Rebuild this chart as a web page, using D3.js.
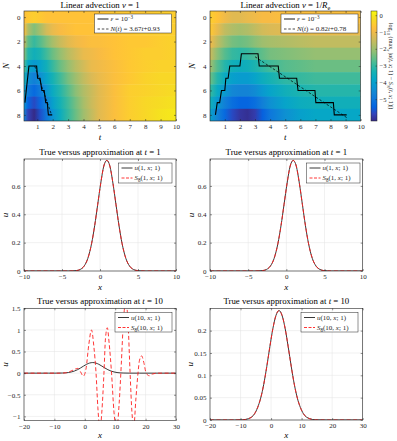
<!DOCTYPE html>
<html lang="en">
<head>
<meta charset="UTF-8">
<title>Linear advection</title>
<style>
  body { margin: 0; background: #fff; }
  svg { display: block; font-family: "Liberation Serif", "DejaVu Serif", serif; white-space: pre; }
</style>
</head>
<body>
<svg id="fig" width="397" height="441"></svg>
<script src="https://d3js.org/d3.v7.min.js"></script>
<script>

// ---- heatmap data: log10 max error, rows N = 0..8 ----
const rowsN = [0, 1, 2, 3, 4, 5, 6, 7, 8];

const tColsA = [0.15, 0.4, 0.8, 1.2, 1.6, 2, 2.5, 3, 3.5, 4, 4.5, 5, 6, 7, 8, 9, 10];
const errA = [
  [-0.8, -0.6, -0.5, -0.6, -0.7, -0.7, -0.7, -0.7, -0.7, -0.7, -0.7, -0.7, -0.6, -0.6, -0.6, -0.5, -0.5],
  [-0.8, -1.8, -2.3, -1.9, -1.4, -1.1, -0.9, -0.8, -0.7, -0.7, -0.7, -0.7, -0.6, -0.6, -0.5, -0.5, -0.5],
  [-1.5, -2.6, -3.0, -2.7, -2.3, -1.9, -1.5, -1.2, -1.0, -0.9, -0.8, -0.8, -0.7, -0.6, -0.6, -0.5, -0.4],
  [-2.2, -3.2, -3.5, -3.3, -2.9, -2.5, -2.1, -1.7, -1.4, -1.1, -1.0, -0.9, -0.7, -0.6, -0.5, -0.5, -0.4],
  [-2.8, -3.8, -4.2, -3.9, -3.5, -3.0, -2.5, -2.1, -1.7, -1.4, -1.1, -1.0, -0.8, -0.6, -0.5, -0.4, -0.4],
  [-3.4, -4.4, -4.8, -4.4, -3.9, -3.4, -2.9, -2.4, -2.0, -1.6, -1.3, -1.1, -0.8, -0.6, -0.4, -0.3, -0.3],
  [-3.9, -4.9, -5.3, -4.9, -4.3, -3.7, -3.2, -2.7, -2.2, -1.8, -1.5, -1.2, -0.8, -0.5, -0.4, -0.3, -0.2],
  [-4.3, -5.4, -5.8, -5.3, -4.7, -4.0, -3.4, -2.9, -2.4, -1.9, -1.5, -1.2, -0.8, -0.5, -0.3, -0.2, -0.1],
  [-4.7, -5.9, -6.3, -5.7, -5.0, -4.3, -3.6, -3.0, -2.5, -2.0, -1.6, -1.2, -0.8, -0.5, -0.3, -0.1, 0.0]
];

const tColsB = [0.05, 0.5, 1, 1.5, 2, 2.5, 3, 3.5, 4, 5, 6, 7, 8, 9, 10];
const errB = [
  [-0.5, -0.7, -1.0, -1.2, -1.2, -1.1, -1.0, -0.9, -0.9, -0.8, -0.8, -0.8, -0.8, -0.8, -0.8],
  [-0.6, -1.1, -1.6, -1.8, -1.9, -1.8, -1.6, -1.4, -1.3, -1.2, -1.1, -1.1, -1.1, -1.1, -1.1],
  [-1.0, -1.6, -2.1, -2.4, -2.5, -2.4, -2.2, -2.0, -1.9, -1.8, -1.7, -1.6, -1.6, -1.6, -1.6],
  [-1.5, -2.2, -2.7, -3.0, -3.1, -3.0, -2.8, -2.6, -2.4, -2.3, -2.2, -2.1, -2.1, -2.1, -2.1],
  [-2.0, -2.7, -3.2, -3.5, -3.6, -3.5, -3.3, -3.1, -2.9, -2.7, -2.6, -2.5, -2.5, -2.5, -2.5],
  [-2.5, -3.2, -3.7, -4.0, -4.1, -4.1, -3.9, -3.6, -3.4, -3.1, -3.0, -2.9, -2.9, -2.9, -2.9],
  [-3.0, -3.7, -4.2, -4.6, -4.7, -4.7, -4.5, -4.2, -3.9, -3.5, -3.3, -3.2, -3.2, -3.2, -3.2],
  [-3.5, -4.2, -4.8, -5.2, -5.4, -5.4, -5.2, -4.8, -4.4, -3.9, -3.6, -3.5, -3.5, -3.5, -3.5],
  [-4.0, -4.7, -5.3, -5.8, -6.1, -6.2, -6.0, -5.5, -5.0, -4.4, -4.0, -3.8, -3.8, -3.8, -3.8]
];

// N(t) for eps = 1e-3, as [t, N]
const stairA = [[0.2, 7], [0.46, 4], [0.96, 4], [1.02, 5], [1.18, 5], [1.3, 6], [1.45, 6],
                [1.55, 7], [1.65, 7], [1.72, 8], [1.97, 8]];
const stairB = [[0.38, 8], [0.5, 7], [0.66, 7], [0.78, 6], [1.0, 6], [1.07, 5], [1.22, 5],
                [1.33, 4], [2.0, 4], [2.1, 3], [3.2, 3], [3.28, 4], [4.54, 4], [4.62, 5],
                [5.76, 5], [5.85, 6], [6.97, 6], [7.03, 7], [8.19, 7], [8.25, 8], [9.07, 8]];
// linear fits N(t) = a t + b and the t range they are drawn on
const fitA = [3.67, 0.93], fitRangeA = [0.84, 1.93];
const fitB = [0.82, 0.78], fitRangeB = [3.0, 9.1];

const climits = [-6.3, 0.25];
const cbTicks = [0, -1, -2, -3, -4, -5];

// ---- curves at t = 1 ----
const x1 = [-10, -4.1, -3.1, -2.6, -2.1, -1.6, -1.1, -0.7, -0.3, 0.1, 0.5, 0.9, 1.3, 1.7, 2.1, 2.5, 2.9, 3.4, 3.9, 4.4, 4.9, 5.9, 10];
const u1 = [0, 0, 0.003, 0.011, 0.034, 0.089, 0.195, 0.32, 0.47, 0.62, 0.74, 0.78, 0.74, 0.62, 0.47, 0.32, 0.195, 0.089, 0.034, 0.011, 0.003, 0, 0];
const s1 = [0, 0, 0.003, 0.011, 0.034, 0.089, 0.195, 0.32, 0.47, 0.62, 0.74, 0.78, 0.74, 0.62, 0.47, 0.32, 0.195, 0.089, 0.034, 0.011, 0.003, 0, 0];

// ---- curves at t = 10 ----
const x10 = [-20, -12, -9.4, -7.4, -5.4, -4.4, -3.4, -2.4, -1.4, -0.4, 0.6, 1.6, 2.6, 3.6, 4.6, 5.6, 6.6, 7.6, 8.6, 9.6, 10.6, 12.6, 14.6, 18, 30];
const u10 = [0, 0, 0.0004, 0.003, 0.014, 0.028, 0.049, 0.08, 0.12, 0.164, 0.205, 0.234, 0.245, 0.234, 0.205, 0.164, 0.12, 0.08, 0.049, 0.028, 0.014, 0.003, 0.0004, 0, 0];
const s10B = [0, 0, 0.0004, 0.003, 0.014, 0.028, 0.049, 0.08, 0.12, 0.164, 0.205, 0.234, 0.245, 0.234, 0.205, 0.164, 0.12, 0.08, 0.049, 0.028, 0.014, 0.003, 0.0004, 0, 0];
// oscillating approximation for v = 1 (goes past the axis limits)
const xs10A = [-20, -8, -6, -4.5, -2.3, -1.4, -0.5, 0.4, 1.3, 2.2, 3.0, 3.7, 4.3, 5.0, 5.6, 6.3, 6.8, 7.4, 8.0, 8.8, 9.6, 10.5,
               11.3, 12.0, 12.7, 13.5, 14.2, 14.9, 15.5, 16.1, 16.8, 17.5, 18.0, 18.7, 19.4, 20.2, 21.2, 22.3, 24, 30];
const s10A = [0, 0, 0.01, 0.05, 0.11, 0.03, -0.07, 0.1, 0.65, 1.0, 0.6, 0, -0.8, -1.3, -0.9, 0, 0.8, 1.05, 0.7, 0, -0.9, -1.3,
              -0.7, 0.2, 1.2, 1.65, 1.2, 0, -0.9, -1.25, -0.6, 0, 0.3, 0.4, 0.25, 0, -0.06, -0.02, 0, 0];

// ---- drawing ----
const svg = d3.select("#fig");
const defs = svg.append("defs");
const ink = "#262626";

// parula, sampled from the 64-entry table
const parula = ["#352a87", "#3243ba", "#0363e1", "#0d75dc", "#1485d4", "#0998d1", "#06a7c6", "#15b1b4", "#38b99e",
                "#65be86", "#92bf73", "#b7bd64", "#d9ba56", "#f8bb44", "#ffc337", "#fccf2e", "#f7d826", "#f5e41d", "#f9fb0e"];
const pStops = [0, 4, 8, 12, 16, 20, 24, 28, 32, 36, 40, 44, 48, 52, 54, 56, 58, 60, 63].map(i => i / 63);
const color = d3.scaleLinear()
  .domain(pStops.map(s => climits[0] + s * (climits[1] - climits[0])))
  .range(parula)
  .clamp(true);

function rich(t, parts) {
  const fs = +t.attr("font-size");
  let cur = 0;
  parts.forEach(p => {
    const [s, st = ""] = Array.isArray(p) ? p : [p];
    const off = st.includes("sub") ? 0.28 * fs : st.includes("sup") ? -0.4 * fs : 0;
    const sp = t.append("tspan").attr("dy", off - cur).text(s);
    if (st.includes("i")) sp.attr("font-style", "italic");
    if (off !== 0) sp.attr("font-size", fs * 0.72);
    cur = off;
  });
  return t;
}

function styleAxis(a, fs) {
  a.select(".domain").remove();
  a.attr("font-family", null).attr("font-size", fs);
  a.selectAll("line").attr("stroke", ink).attr("stroke-width", 0.5);
  a.selectAll("text").attr("fill", ink);
}

function clipFor(id, l, t, w, h) {
  defs.append("clipPath").attr("id", id).append("rect")
    .attr("x", l).attr("y", t).attr("width", w).attr("height", h);
  return `url(#${id})`;
}

function legend(g, box, rows) {
  g.append("rect").attr("x", box.x).attr("y", box.y).attr("width", box.w).attr("height", box.h)
    .attr("fill", "#fff").attr("stroke", ink).attr("stroke-width", 0.5);
  rows.forEach((r, i) => {
    const yy = box.y + 5 + i * 10;
    g.append("line").attr("x1", box.x + 3).attr("x2", box.x + 14).attr("y1", yy).attr("y2", yy)
      .attr("stroke", r.color).attr("stroke-width", r.width).attr("stroke-dasharray", r.dash);
    rich(g.append("text").attr("x", box.x + 16).attr("y", yy + 2.4).attr("font-size", 7).attr("fill", ink), r.parts);
  });
}

function heatPanel(c) {
  const g = svg.append("g");
  const b = c.top + c.h;
  const x = d3.scaleLinear().domain(c.tDomain).range([c.left, c.left + c.w]);
  const y = d3.scaleLinear().domain([-0.5, 8.5]).range([c.top, b]);
  rowsN.forEach((n, i) => {
    const grad = defs.append("linearGradient").attr("id", c.id + n);
    c.tCols.forEach((t, j) => grad.append("stop")
      .attr("offset", Math.max(0, (x(t) - c.left) / c.w))
      .attr("stop-color", color(c.err[i][j])));
  });
  const inner = g.append("g").attr("clip-path", clipFor(c.id + "clip", c.left, c.top, c.w, c.h));
  inner.selectAll("rect").data(rowsN).join("rect")
    .attr("x", c.left).attr("width", c.w)
    .attr("y", n => y(n - 0.5)).attr("height", n => y(n + 0.5) - y(n - 0.5) + 0.4)
    .attr("fill", n => `url(#${c.id}${n})`);
  inner.append("path").datum(c.stair)
    .attr("d", d3.line().x(d => x(d[0])).y(d => y(d[1])))
    .attr("fill", "none").attr("stroke", "#000").attr("stroke-width", 1.1);
  inner.append("path").datum(c.fitRange.map(t => [t, c.fit[0] * t + c.fit[1]]))
    .attr("d", d3.line().x(d => x(d[0])).y(d => y(d[1])))
    .attr("fill", "none").attr("stroke", "#000").attr("stroke-width", 0.7).attr("stroke-dasharray", "2.5,1.8");

  const tt = d3.range(1, 11);
  styleAxis(g.append("g").attr("transform", `translate(0,${b})`)
    .call(d3.axisBottom(x).tickValues(tt).tickSize(-2).tickPadding(3.5)), 7);
  styleAxis(g.append("g").attr("transform", `translate(0,${c.top})`)
    .call(d3.axisTop(x).tickValues(tt).tickSize(-2).tickFormat("")), 7);
  styleAxis(g.append("g").attr("transform", `translate(${c.left},0)`)
    .call(d3.axisLeft(y).tickValues([0, 2, 4, 6, 8]).tickSize(-2).tickPadding(3.5)), 7);
  styleAxis(g.append("g").attr("transform", `translate(${c.left + c.w},0)`)
    .call(d3.axisRight(y).tickValues([0, 2, 4, 6, 8]).tickSize(-2).tickFormat("")), 7);
  g.append("rect").attr("x", c.left).attr("y", c.top).attr("width", c.w).attr("height", c.h)
    .attr("fill", "none").attr("stroke", ink).attr("stroke-width", 0.6);

  rich(g.append("text").attr("x", c.left + c.w / 2).attr("y", c.top - 3).attr("text-anchor", "middle")
    .attr("font-size", 8.8).attr("fill", "#000"), c.title);
  g.append("text").attr("x", c.left + c.w / 2).attr("y", b + 19).attr("text-anchor", "middle")
    .attr("font-size", 9).attr("font-style", "italic").text("t");
  g.append("text").attr("transform", `translate(${c.left - 15},${c.top + c.h / 2}) rotate(-90)`)
    .attr("text-anchor", "middle").attr("font-size", 9).attr("font-style", "italic").text("N");

  legend(g, c.legendBox, [
    { color: "#000", width: 0.9, dash: null, parts: [["ε", "i"], " = 10", ["−3", "sup"]] },
    { color: "#000", width: 0.7, dash: "2.5,1.8", parts: [["N", "i"], "(", ["t", "i"], ") = " + c.fit[0] + "", ["t", "i"], "+" + c.fit[1]] }
  ]);
}

function linePanel(c) {
  const g = svg.append("g");
  const b = c.top + c.h;
  const x = d3.scaleLinear().domain(c.xDomain).range([c.left, c.left + c.w]);
  const y = d3.scaleLinear().domain(c.yDomain).range([b, c.top]);

  // grid
  const grid = g.append("g").attr("stroke", "#e3e3e3").attr("stroke-width", 0.5);
  grid.selectAll("line.gx").data(c.xTicks).join("line").attr("class", "gx")
    .attr("x1", d => x(d)).attr("x2", d => x(d)).attr("y1", c.top).attr("y2", b);
  grid.selectAll("line.gy").data(c.yTicks).join("line").attr("class", "gy")
    .attr("y1", d => y(d)).attr("y2", d => y(d)).attr("x1", c.left).attr("x2", c.left + c.w);

  const inner = g.append("g").attr("clip-path", clipFor(c.id + "clip", c.left, c.top, c.w, c.h));
  const ln = d3.line().x(d => x(d[0])).y(d => y(d[1])).curve(d3.curveMonotoneX);
  inner.append("path").datum(d3.zip(c.xu, c.u)).attr("d", ln)
    .attr("fill", "none").attr("stroke", "#222").attr("stroke-width", 0.9);
  inner.append("path").datum(d3.zip(c.xs, c.s)).attr("d", ln)
    .attr("fill", "none").attr("stroke", "#ff1f1f").attr("stroke-width", 0.9).attr("stroke-dasharray", "4,2.5");

  styleAxis(g.append("g").attr("transform", `translate(0,${b})`)
    .call(d3.axisBottom(x).tickValues(c.xTicks).tickSize(-2).tickPadding(3.5)), 7);
  styleAxis(g.append("g").attr("transform", `translate(0,${c.top})`)
    .call(d3.axisTop(x).tickValues(c.xTicks).tickSize(-2).tickFormat("")), 7);
  styleAxis(g.append("g").attr("transform", `translate(${c.left},0)`)
    .call(d3.axisLeft(y).tickValues(c.yTicks).tickSize(-2).tickPadding(3.5).tickFormat(d3.format("~g"))), 7);
  styleAxis(g.append("g").attr("transform", `translate(${c.left + c.w},0)`)
    .call(d3.axisRight(y).tickValues(c.yTicks).tickSize(-2).tickFormat("")), 7);
  g.append("rect").attr("x", c.left).attr("y", c.top).attr("width", c.w).attr("height", c.h)
    .attr("fill", "none").attr("stroke", ink).attr("stroke-width", 0.6);

  rich(g.append("text").attr("x", c.left + c.w / 2).attr("y", c.top - 4).attr("text-anchor", "middle")
    .attr("font-size", 8.8).attr("fill", "#000"), ["True versus approximation at ", ["t", "i"], " = " + c.tval]);
  g.append("text").attr("x", c.left + c.w / 2).attr("y", b + c.xlabOff).attr("text-anchor", "middle")
    .attr("font-size", 9).attr("font-style", "italic").text("x");
  g.append("text").attr("transform", `translate(${c.left - c.ylabOff},${c.top + c.h / 2}) rotate(-90)`)
    .attr("text-anchor", "middle").attr("font-size", 9).attr("font-style", "italic").text("u");

  legend(g, c.legendBox, [
    { color: "#222", width: 0.9, dash: null, parts: [["u", "i"], "(" + c.tval + ", ", ["x", "i"], "; 1)"] },
    { color: "#ff1f1f", width: 0.9, dash: "3,1.5", parts: [["S", "i"], ["8", "sub"], "(" + c.tval + ", ", ["x", "i"], "; 1)"] }
  ]);
}

heatPanel({
  id: "hA", left: 24, top: 11, w: 152, h: 110, tDomain: [0.14, 10],
  tCols: tColsA, err: errA, stair: stairA, fit: fitA, fitRange: fitRangeA,
  title: ["Linear advection ", ["v", "i"], " = 1"],
  legendBox: { x: 94.5, y: 14, w: 77, h: 19 }
});
heatPanel({
  id: "hB", left: 210, top: 11, w: 150.7, h: 110, tDomain: [0.02, 10],
  tCols: tColsB, err: errB, stair: stairB, fit: fitB, fitRange: fitRangeB,
  title: ["Linear advection ", ["v", "i"], " = 1/", ["R", "i"], ["e", "sub"]],
  legendBox: { x: 281, y: 14, w: 77, h: 19 }
});

// colorbar
{
  const cb = { x: 371, y: 11, w: 6, h: 110 };
  const grad = defs.append("linearGradient").attr("id", "cbg")
    .attr("x1", 0).attr("x2", 0).attr("y1", 1).attr("y2", 0);
  pStops.forEach((s, i) => grad.append("stop").attr("offset", s).attr("stop-color", parula[i]));
  svg.append("rect").attr("x", cb.x).attr("y", cb.y).attr("width", cb.w).attr("height", cb.h)
    .attr("fill", "url(#cbg)").attr("stroke", ink).attr("stroke-width", 0.5);
  const cy = d3.scaleLinear().domain(climits).range([cb.y + cb.h, cb.y]);
  styleAxis(svg.append("g").attr("transform", `translate(${cb.x + cb.w},0)`)
    .call(d3.axisRight(cy).tickValues(cbTicks).tickSize(-1.5).tickPadding(2.5).tickFormat(d3.format("d"))), 6.5);
  rich(svg.append("text").attr("transform", `translate(388.5,${cb.y + cb.h / 2}) rotate(90)`)
    .attr("text-anchor", "middle").attr("font-size", 6.2).attr("fill", ink),
    ["log", ["10", "sub"], " (max", ["x", "sub i"], " |", ["u", "i"], "(", ["t", "i"], ", ", ["x", "i"], "; 1) − ",
     ["S", "i"], ["N", "sub i"], "(", ["t", "i"], ", ", ["x", "i"], "; 1)|)"]);
}

linePanel({
  id: "p1", left: 24, top: 159, w: 152, h: 112, xDomain: [-10, 10], yDomain: [0, 0.79],
  xTicks: [-10, -5, 0, 5, 10], yTicks: [0, 0.2, 0.4, 0.6], tval: 1, ylabOff: 16, xlabOff: 19,
  xu: x1, u: u1, xs: x1, s: s1, legendBox: { x: 118.5, y: 163, w: 53.5, h: 20 }
});
linePanel({
  id: "p2", left: 210, top: 159, w: 152.7, h: 112, xDomain: [-10, 10], yDomain: [0, 0.79],
  xTicks: [-10, -5, 0, 5, 10], yTicks: [0, 0.2, 0.4, 0.6], tval: 1, ylabOff: 16, xlabOff: 19,
  xu: x1, u: u1, xs: x1, s: s1, legendBox: { x: 306.5, y: 163, w: 53.5, h: 20 }
});
linePanel({
  id: "p3", left: 24, top: 308.3, w: 152, h: 112.4, xDomain: [-20, 30], yDomain: [-1.1, 1.5],
  xTicks: [-20, -10, 0, 10, 20, 30], yTicks: [-1, -0.5, 0, 0.5, 1, 1.5], tval: 10, ylabOff: 16.5, xlabOff: 17,
  xu: x10, u: u10, xs: xs10A, s: s10A, legendBox: { x: 115, y: 312.5, w: 57, h: 19.5 }
});
linePanel({
  id: "p4", left: 210, top: 308.3, w: 152.7, h: 111.7, xDomain: [-20, 30], yDomain: [0, 0.25],
  xTicks: [-20, -10, 0, 10, 20, 30], yTicks: [0, 0.05, 0.1, 0.15, 0.2], tval: 10, ylabOff: 17, xlabOff: 17.5,
  xu: x10, u: u10, xs: x10, s: s10B, legendBox: { x: 301, y: 312.5, w: 57, h: 19.5 }
});

</script>
</body>
</html>
